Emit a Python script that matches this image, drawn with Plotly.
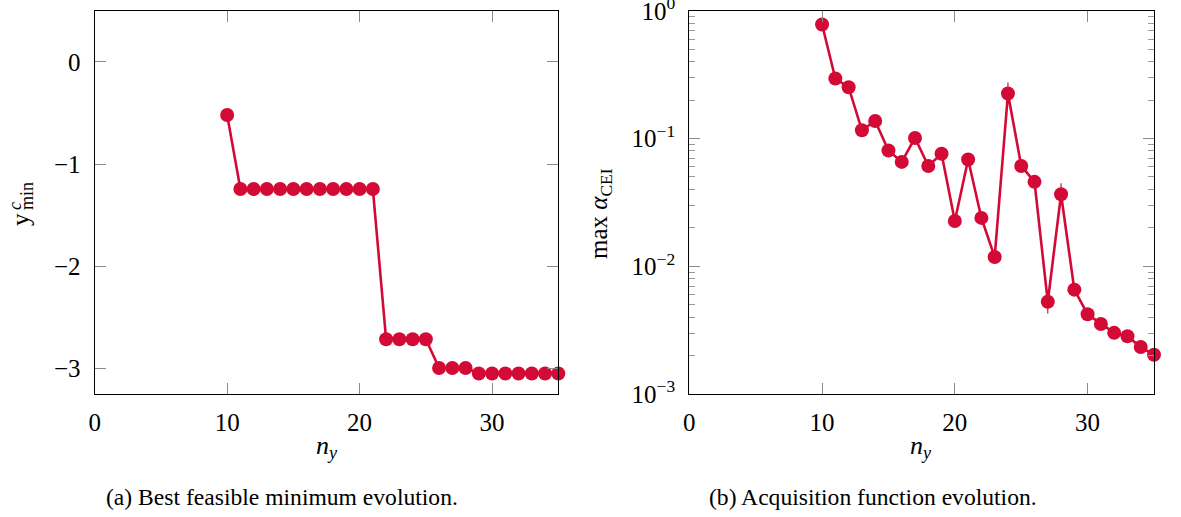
import plotly.graph_objects as go

# ---- data ----
n_y = list(range(10, 36))
y_min_c = [-0.52] + [-1.245] * 11 + [-2.715] * 4 + [-2.995] * 3 + [-3.05] * 7
max_alpha = [0.78, 0.295, 0.252, 0.116, 0.137, 0.0805, 0.0656, 0.101, 0.061, 0.0759,
             0.0226, 0.0685, 0.0239, 0.0118, 0.225, 0.061, 0.0458, 0.00527, 0.0366,
             0.00656, 0.00421, 0.00353, 0.00301, 0.00283, 0.00233, 0.00203]
# small uncertainty whiskers seen on a few points
err_plus = [0.0] * 26
err_minus = [0.0] * 26
err_plus[24 - 10] = 0.05
err_minus[27 - 10] = 0.001
err_plus[28 - 10] = 0.008

x_ticks = [0, 10, 20, 30]
y1_ticks = [0, -1, -2, -3]
y2_ticks = [1e-3, 1e-2, 1e-1, 1]
y2_ticktext = ["10<sup>−3</sup>", "10<sup>−2</sup>", "10<sup>−1</sup>", "10<sup>0</sup>"]
y2_minor = [m * 10 ** e for e in (-3, -2, -1) for m in range(2, 10)]

RED = "#D40A36"
FONT = "Liberation Serif, Times New Roman, DejaVu Serif, serif"
W, H = 1181, 517

fig = go.Figure()
fig.add_trace(go.Scatter(x=n_y, y=y_min_c, mode="lines+markers",
                         line=dict(color=RED, width=2.6),
                         marker=dict(color=RED, size=14),
                         xaxis="x", yaxis="y", showlegend=False, cliponaxis=False))
fig.add_trace(go.Scatter(x=n_y, y=max_alpha, mode="lines+markers",
                         line=dict(color=RED, width=2.6),
                         marker=dict(color=RED, size=14),
                         error_y=dict(type="data", symmetric=False, array=err_plus,
                                      arrayminus=err_minus, color=RED, thickness=1.2, width=0),
                         xaxis="x2", yaxis="y2", showlegend=False, cliponaxis=False))

ax_common = dict(showline=True, linecolor="black", linewidth=1.3, mirror="allticks",
                 ticks="inside", ticklen=11, tickcolor="#8a8a8a", tickwidth=1,
                 showgrid=False, zeroline=False, automargin=False,
                 ticklabeloverflow="allow",
                 tickfont=dict(family=FONT, size=25, color="black"))

x1d = [94.7 / W, 558.3 / W]
x2d = [689.3 / W, 1154.0 / W]
yd = [(H - 394.0) / H, (H - 10.7) / H]

fig.update_layout(
    width=W, height=H, autosize=False,
    margin=dict(l=0, r=0, t=0, b=0, pad=0, autoexpand=False),
    paper_bgcolor="white", plot_bgcolor="white",
    font=dict(family=FONT, color="black"),
    xaxis=dict(domain=x1d, range=[0, 35], tickvals=x_ticks, anchor="y",
               ticklabelstandoff=6, **ax_common),
    yaxis=dict(domain=yd, range=[-3.25, 0.5], tickvals=y1_ticks, anchor="x",
               ticklabelstandoff=8, **ax_common),
    xaxis2=dict(domain=x2d, range=[0, 35], tickvals=x_ticks, anchor="y2",
                ticklabelstandoff=6, **ax_common),
    yaxis2=dict(domain=yd, type="log", range=[-3.0, 0.0005], tickvals=y2_ticks,
                ticktext=y2_ticktext, anchor="x2", ticklabelstandoff=8,
                minor=dict(tickvals=y2_minor, ticks="inside", ticklen=6,
                           tickcolor="#9a9a9a", tickwidth=1, showgrid=False),
                **ax_common),
)

def ann(text, px, py, size, angle=0):
    fig.add_annotation(text=text, x=px / W, y=1 - py / H, xref="paper", yref="paper",
                       showarrow=False, textangle=angle, xanchor="center", yanchor="middle",
                       font=dict(family=FONT, size=size, color="black"))

ann("<i>n<sub>y</sub></i>", 327, 447, 26)
ann("<i>n<sub>y</sub></i>", 921, 447, 26)
ann("y", 21, 220, 25, -90)
ann("<i>c</i>", 15, 206, 18, -90)
ann("min", 27, 196, 18, -90)
ann("max <i>α</i><sub>CEI</sub>", 600, 214, 25, -90)
ann("(a) Best feasible minimum evolution.", 282, 497, 23.6)
ann("(b) Acquisition function evolution.", 873, 497, 23.6)

fig.write_html("out.html", config={"displayModeBar": False})

# remove the default page margin so the figure sits at the window origin
with open("out.html", encoding="utf-8") as f:
    html = f.read()
html = html.replace("<body>", '<body style="margin:0;padding:0;overflow:hidden">', 1)
with open("out.html", "w", encoding="utf-8") as f:
    f.write(html)
